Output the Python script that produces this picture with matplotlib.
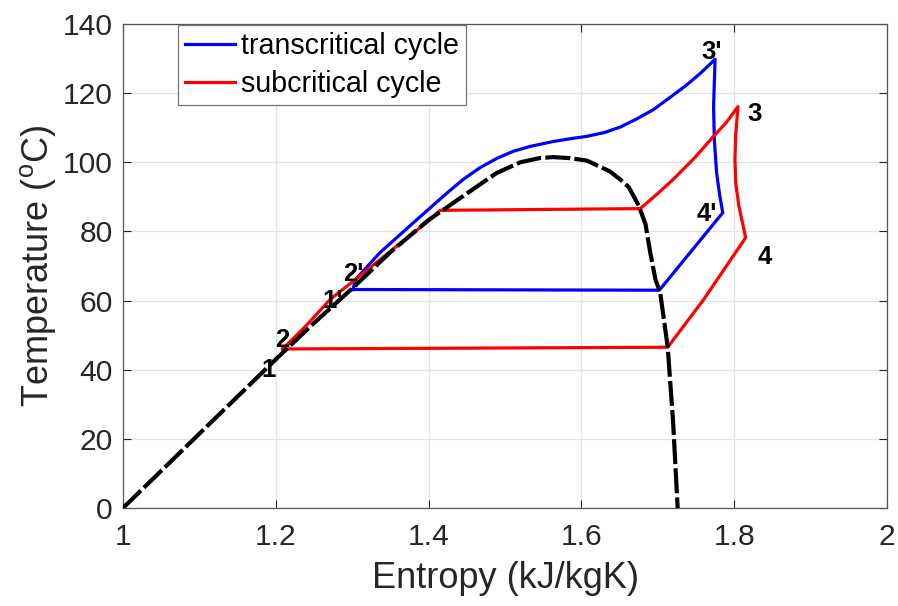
import matplotlib
matplotlib.use("Agg")
import matplotlib.pyplot as plt

# ---- data ----
dome_s = [1.000, 1.100, 1.200, 1.250, 1.300, 1.350, 1.400, 1.445, 1.489, 1.520, 1.545,
          1.563, 1.585, 1.607, 1.637, 1.651, 1.662, 1.675, 1.684, 1.690, 1.697, 1.703,
          1.713, 1.720, 1.726]
dome_T = [0.0, 21.5, 43.0, 53.5, 63.5, 74.0, 83.3, 90.2, 96.9, 100.0, 101.2,
          101.5, 101.2, 100.5, 97.4, 95.0, 92.8, 87.5, 82.0, 74.0, 66.0, 62.5,
          46.5, 25.0, 0.0]

trans_s = [1.301, 1.304, 1.336, 1.380, 1.424, 1.445, 1.467, 1.490, 1.511, 1.533, 1.563,
           1.585, 1.607, 1.630, 1.651, 1.672, 1.694, 1.715, 1.738, 1.757, 1.775,
           1.773, 1.774, 1.777, 1.781, 1.785, 1.702, 1.301]
trans_T = [63.2, 66.0, 73.8, 82.5, 91.1, 95.0, 98.4, 101.2, 103.2, 104.6, 106.0,
           106.8, 107.5, 108.6, 110.2, 112.5, 115.2, 118.6, 122.4, 126.0, 129.8,
           116.1, 106.5, 96.9, 90.5, 85.4, 63.0, 63.2]

sub_s = [1.209, 1.240, 1.271, 1.315, 1.358, 1.402, 1.415, 1.677, 1.698, 1.720, 1.747,
         1.773, 1.790, 1.805, 1.802, 1.801, 1.802, 1.806, 1.815, 1.760, 1.713, 1.209]
sub_T = [46.0, 52.8, 60.3, 68.0, 75.7, 83.4, 86.1, 86.6, 90.6, 95.0, 101.0,
         107.5, 111.6, 116.1, 108.0, 101.0, 94.0, 87.5, 78.2, 60.3, 46.5, 46.0]

point_labels = ["3'", "3", "4'", "4", "2'", "1'", "2", "1"]
label_s = [1.770, 1.827, 1.764, 1.840, 1.301, 1.275, 1.209, 1.190]
label_T = [132.0, 114.0, 84.9, 72.7, 67.8, 59.8, 48.5, 39.8]

x_ticks = [1, 1.2, 1.4, 1.6, 1.8, 2]
x_ticklabels = ["1", "1.2", "1.4", "1.6", "1.8", "2"]
y_ticks = [0, 20, 40, 60, 80, 100, 120, 140]

# ---- figure ----
plt.rcParams['font.family'] = ['Liberation Sans', 'DejaVu Sans']
W, H = 898, 606
fig = plt.figure(figsize=(W / 100, H / 100), dpi=100)
ax = fig.add_axes([123 / W, (H - 508) / H, (887 - 123) / W, (508 - 24) / H])

dark = '#262626'
ax.plot(trans_s, trans_T, color='#0000ff', lw=2.3, label='transcritical cycle', zorder=3,
        solid_joinstyle='round')
ax.plot(sub_s, sub_T, color='#ff0000', lw=2.3, label='subcritical cycle', zorder=3,
        solid_joinstyle='round')
ax.plot(dome_s, dome_T, color='black', lw=3.0, linestyle=(0, (6, 1)), zorder=4)

for lab, s, t in zip(point_labels, label_s, label_T):
    ax.text(s, t, lab, fontsize=18.5, fontweight='bold', ha='center', va='center',
            color='black', zorder=5)

ax.set_xlim(1, 2)
ax.set_ylim(0, 140)
ax.set_xticks(x_ticks)
ax.set_xticklabels(x_ticklabels)
ax.set_yticks(y_ticks)
ax.grid(True, color='#e3e3e3', lw=0.9, zorder=0)
ax.set_axisbelow(True)
ax.tick_params(direction='in', length=5.5, width=0.8, colors=dark, labelsize=21.6,
               top=True, right=True)
ax.tick_params(axis='x', pad=11)
ax.tick_params(axis='y', pad=7.5)
for sp in ax.spines.values():
    sp.set_color('#555555')
    sp.set_linewidth(0.9)

ax.set_xlabel('Entropy (kJ/kgK)', fontsize=26, color=dark, labelpad=7)
ax.set_ylabel('Temperature ($\\mathregular{^oC}$)', fontsize=26, color=dark, labelpad=3)

leg = ax.legend(loc='upper left', bbox_to_anchor=((178 - 123) / 764, (508 - 25) / 484),
                borderaxespad=0, fontsize=20.6, frameon=True, fancybox=False,
                handlelength=1.75, handletextpad=0.2, labelspacing=0.34, borderpad=0.25)
leg.get_frame().set_edgecolor('#777777')
leg.get_frame().set_linewidth(0.9)
leg.get_frame().set_alpha(1)

fig.savefig('out.png', dpi=100)
